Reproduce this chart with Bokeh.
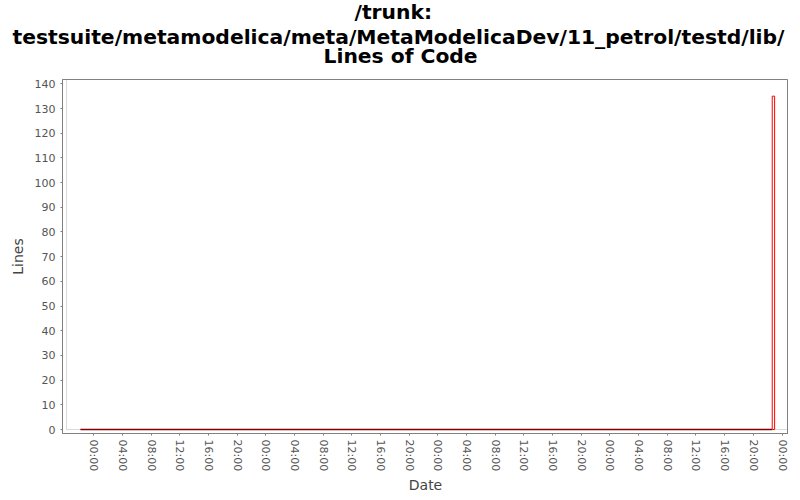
import pandas as pd
from bokeh.plotting import figure
from bokeh.models import Range1d, FixedTicker, BoxAnnotation, Title
from bokeh.embed import file_html
from bokeh.resources import INLINE

# ---- data ----
title_lines = ["/trunk:",
               "testsuite/metamodelica/meta/MetaModelicaDev/11_petrol/testd/lib/",
               "Lines of Code"]
dates = ["2008-11-02 22:09", "2008-11-06 22:38"]
loc = [0, 135]
bar_minutes = 20
tick_start = "2008-11-03 00:00"
tick_step_hours = 4
tick_labels = ["00:00", "04:00", "08:00", "12:00", "16:00", "20:00",
               "00:00", "04:00", "08:00", "12:00", "16:00", "20:00",
               "00:00", "04:00", "08:00", "12:00", "16:00", "20:00",
               "00:00", "04:00", "08:00", "12:00", "16:00", "20:00",
               "00:00"]

# ---- derived ----
def ms(ts):
    return pd.Timestamp(ts).value // 10**6

t = [ms(d) for d in dates]
bar_w = bar_minutes * 60 * 1000
t0 = ms(tick_start)
ticks = [t0 + i * tick_step_hours * 3600 * 1000 for i in range(len(tick_labels))]

FRAME_W, FRAME_H, GAP = 726, 354, 4
x_min, x_max = t[0], t[-1] + bar_w
span = x_max - x_min
inner_left = x_min - 0.02 * span
inner_right = x_max + 0.02 * span
x_start = inner_left - GAP * (inner_right - inner_left) / (FRAME_W - GAP)
y_top = max(loc) * 1.05
y_start = -GAP * y_top / (FRAME_H - GAP)

GRAY = "#808080"
p = figure(frame_width=FRAME_W, frame_height=FRAME_H,
           min_border_left=0, min_border_right=0,
           min_border_top=0, min_border_bottom=0,
           x_axis_type="datetime",
           x_range=Range1d(x_start, inner_right),
           y_range=Range1d(y_start, y_top),
           output_backend="svg", toolbar_location=None,
           background_fill_color="white", border_fill_color="white")

def set_standoff(obj, s):
    try:
        obj.standoff = s
    except Exception:
        obj.standoff = 0

def style_title(ti, standoff, shift=0, size="20.3px"):
    ti.align = "left"
    ti.offset = shift
    ti.text_font = "DejaVu Sans"
    ti.text_font_style = "bold"
    ti.text_font_size = size
    ti.text_color = "black"
    ti.text_line_height = 1.0
    set_standoff(ti, standoff)

# p.title is outermost; later-added "above" titles stack toward the frame
p.title.text = title_lines[0]
style_title(p.title, -4.6, shift=292)
spacer_top = Title(text=" ")
style_title(spacer_top, 16.3, size="1px")
p.add_layout(spacer_top, "above")
for line, so, sh in ((title_lines[2], -14.6, 261), (title_lines[1], 2, -50)):
    ti = Title(text=line)
    style_title(ti, so, shift=sh)
    p.add_layout(ti, "above")

# left spacer so the axis title sits a little away from the edge
spacer_left = Title(text=" ")
style_title(spacer_left, 3, size="1px")
p.add_layout(spacer_left, "left")

p.outline_line_color = GRAY
p.outline_line_width = 1
p.grid.visible = False

inner = BoxAnnotation(left=inner_left, bottom=0, fill_alpha=0,
                      line_color=GRAY, line_width=1, level="underlay")
p.add_layout(inner)

# zero line up to the bar
p.segment(x0=[t[0]], y0=[loc[0]], x1=[t[-1]], y1=[loc[0]],
          line_color="#800000", line_width=1.5)
# last bar
p.quad(left=[t[-1]], right=[t[-1] + bar_w], bottom=[0], top=[loc[-1]],
       fill_color="white", line_color="red", line_width=1)

for ax in (p.xaxis[0], p.yaxis[0]):
    ax.axis_line_color = GRAY
    ax.major_tick_line_color = GRAY
    ax.minor_tick_line_color = None
    ax.major_tick_in = 0
    ax.major_tick_out = 2
    ax.major_label_text_font = "DejaVu Sans"
    ax.major_label_text_font_size = "11px"
    ax.major_label_text_color = "#555555"
    ax.axis_label_text_font = "DejaVu Sans"
    ax.axis_label_text_font_size = "14px"
    ax.axis_label_text_font_style = "normal"
    ax.axis_label_text_color = "#444444"

p.yaxis.ticker = FixedTicker(ticks=list(range(0, 141, 10)))
p.yaxis.axis_label = "Lines"
p.yaxis.axis_label_standoff = 6
p.xaxis.ticker = FixedTicker(ticks=ticks)
p.xaxis.major_label_overrides = {tk: lab for tk, lab in zip(ticks, tick_labels)}
p.xaxis.major_label_orientation = "vertical"
p.xaxis.major_label_standoff = 4
p.xaxis.axis_label = "Date"
p.xaxis.axis_label_standoff = 3

open("out.html", "w").write(file_html(p, INLINE))
